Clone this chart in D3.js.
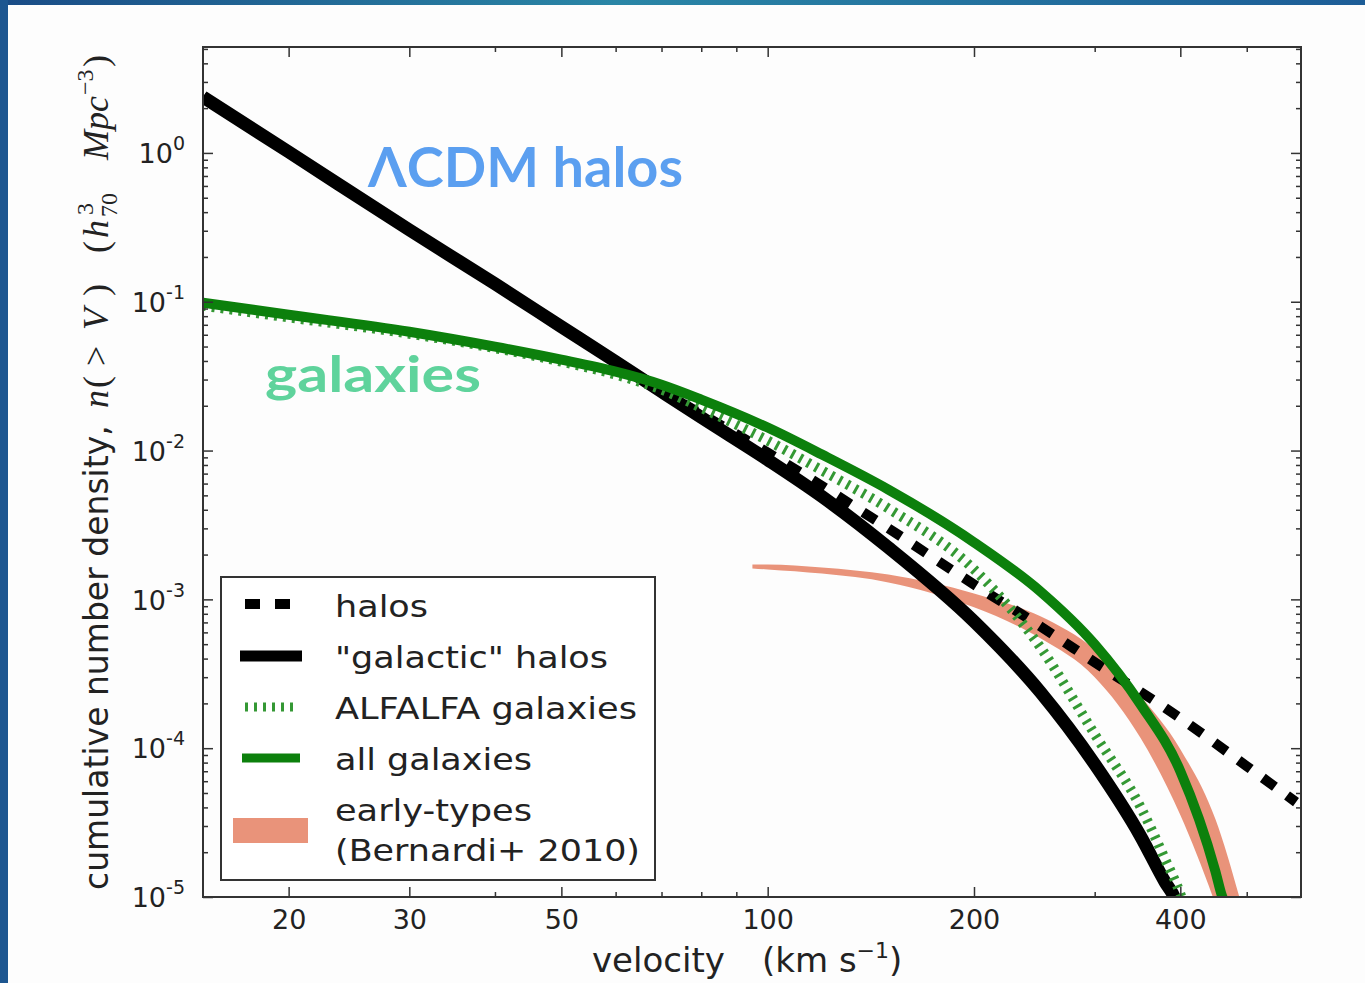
<!DOCTYPE html>
<html>
<head>
<meta charset="utf-8">
<script src="https://cdn.jsdelivr.net/npm/d3@7"></script>
<style>
  body { margin: 0; background: #fff; }
  svg { display: block; }
</style>
</head>
<body>
<div id="chart"></div>
<script>
// values (velocity in km/s, n(>V) in h^3 Mpc^-3)
const haloV = [15, 30, 50, 70, 100, 150, 200, 250, 300, 400, 500, 590];
const haloN = [2.376, 0.304, 0.068, 0.0253, 0.0097, 0.0030, 0.00126, 6.59e-4, 3.78e-4, 1.59e-4, 7.57e-5, 4.34e-5];

const galacticV = [15, 20, 30, 40, 50, 60, 70, 80, 100, 120, 150, 200, 250, 300, 350, 380, 393, 400];
const galacticN = [2.376, 1.016, 0.304, 0.132, 0.068, 0.0396, 0.0249, 0.0167, 0.00867, 0.00491, 0.00223,
  7.11e-4, 2.38e-4, 7.81e-5, 2.56e-5, 1.26e-5, 9.7e-6, 7.5e-6];

const alfalfaV = [15, 20, 30, 40, 50, 60, 70, 80, 100, 120, 150, 200, 250, 300, 350, 380, 400, 410];
const alfalfaN = [0.094, 0.0785, 0.061, 0.0488, 0.0396, 0.0324, 0.0257, 0.0194, 0.01167, 0.00735, 0.00408,
  0.00159, 4.76e-4, 1.24e-4, 4.02e-5, 1.8e-5, 1.05e-5, 7.5e-6];

const allV = [15, 20, 30, 40, 50, 60, 70, 80, 100, 120, 150, 200, 250, 300, 350, 400, 450, 460, 470];
const allN = [0.0985, 0.0818, 0.0629, 0.0499, 0.0408, 0.0339, 0.0277, 0.022, 0.01427, 0.0094, 0.00547,
  0.00242, 0.00113, 4.99e-4, 1.97e-4, 7.01e-5, 1.49e-5, 1.02e-5, 8.3e-6];

const earlyV = [95, 100, 120, 150, 200, 250, 300, 350, 400, 450, 500];
const earlyHi = [1.718e-3, 1.718e-3, 1.64e-3, 1.47e-3, 1.097e-3, 7.69e-4, 4.61e-4, 2.23e-4, 9.85e-5, 3.34e-5, 6.59e-6];
const earlyLo = [1.615e-3, 1.59e-3, 1.49e-3, 1.30e-3, 8.84e-4, 5.47e-4, 3.0e-4, 1.17e-4, 3.55e-5, 8.97e-6, 2.07e-6];

const xMajor = [20, 30, 50, 100, 200, 400];
const xMinor = [40, 60, 70, 80, 90, 300, 500];
const yDecades = [1e-5, 1e-4, 1e-3, 1e-2, 1e-1, 1];

const legendLabels = ["halos", "\"galactic\" halos", "ALFALFA galaxies", "all galaxies", "early-types", "(Bernardi+ 2010)"];

// ---- layout ----
const W = 1365, H = 983;
const plot = { left: 203, right: 1301, top: 47, bottom: 897 };
const ink = "#222";

const svg = d3.select("#chart").append("svg").attr("width", W).attr("height", H);

// slide background with blue border strips
const defs = svg.append("defs");
const grad = defs.append("linearGradient").attr("id", "band").attr("x1", 0).attr("x2", 1);
grad.append("stop").attr("offset", 0).attr("stop-color", "#1a4c86");
grad.append("stop").attr("offset", 0.45).attr("stop-color", "#2a86a6");
grad.append("stop").attr("offset", 1).attr("stop-color", "#1d5d97");
svg.append("rect").attr("width", W).attr("height", H).attr("fill", "url(#band)");
svg.append("rect").attr("x", 0).attr("y", 0).attr("width", 8).attr("height", H).attr("fill", "#1d5690");
svg.append("rect").attr("x", 8).attr("y", 5).attr("width", W - 8).attr("height", H - 5).attr("fill", "#fdfdfd");

defs.append("clipPath").attr("id", "clip")
  .append("rect")
  .attr("x", plot.left).attr("y", plot.top)
  .attr("width", plot.right - plot.left).attr("height", plot.bottom - plot.top);

const x = d3.scaleLog().domain([15, 600]).range([plot.left, plot.right]);
const y = d3.scaleLog().domain([1e-5, 5.15]).range([plot.bottom, plot.top]);

const toPts = (vs, ns) => vs.map((v, i) => [v, ns[i]]);
const line = d3.line().x((d) => x(d[0])).y((d) => y(d[1])).curve(d3.curveMonotoneX);

const g = svg.append("g").attr("clip-path", "url(#clip)");

// early-type band
const band = earlyV.map((v, i) => ({ v, lo: earlyLo[i], hi: earlyHi[i] }));
g.append("path")
  .datum(band)
  .attr("fill", "#e9937a")
  .attr("d", d3.area().x((d) => x(d.v)).y0((d) => y(d.lo)).y1((d) => y(d.hi)).curve(d3.curveMonotoneX));

const styles = {
  galactic: { stroke: "#000", width: 13, dash: null },
  halo: { stroke: "#000", width: 10, dash: "15,15" },
  alfalfa: { stroke: "#349834", width: 10, dash: "3,6" },
  all: { stroke: "#0c800c", width: 10, dash: null },
};

function drawCurve(pts, s) {
  g.append("path")
    .datum(pts)
    .attr("fill", "none")
    .attr("stroke", s.stroke)
    .attr("stroke-width", s.width)
    .attr("stroke-dasharray", s.dash)
    .attr("d", line);
}

drawCurve(toPts(galacticV, galacticN), styles.galactic);
drawCurve(toPts(haloV, haloN), styles.halo);
drawCurve(toPts(alfalfaV, alfalfaN), styles.alfalfa);
drawCurve(toPts(allV, allN), styles.all);

// ---- axes: inward ticks on all four sides ----
function styleAxis(sel) {
  sel.attr("color", "#333").call((s) => s.select(".domain").remove());
  sel.selectAll(".tick line").attr("stroke-width", 1.5);
}

svg.append("g")
  .attr("transform", `translate(0,${plot.bottom})`)
  .call(d3.axisBottom(x).tickValues(xMajor).tickSize(-10).tickPadding(13).tickFormat(d3.format("d")))
  .call(styleAxis)
  .selectAll("text")
  .attr("font-family", "DejaVu Sans").attr("font-size", 27).attr("fill", ink);
svg.append("g").attr("transform", `translate(0,${plot.bottom})`)
  .call(d3.axisBottom(x).tickValues(xMinor).tickSize(-5).tickFormat("")).call(styleAxis);
svg.append("g").attr("transform", `translate(0,${plot.top})`)
  .call(d3.axisTop(x).tickValues(xMajor).tickSize(-10).tickFormat("")).call(styleAxis);
svg.append("g").attr("transform", `translate(0,${plot.top})`)
  .call(d3.axisTop(x).tickValues(xMinor).tickSize(-5).tickFormat("")).call(styleAxis);

const yMinor = [];
yDecades.forEach((d) => {
  for (let m = 2; m <= 9; m++) if (d * m <= 5.15) yMinor.push(d * m);
});

const gy = svg.append("g")
  .attr("transform", `translate(${plot.left},0)`)
  .call(d3.axisLeft(y).tickValues(yDecades).tickSize(-10).tickPadding(18).tickFormat(""))
  .call(styleAxis);
gy.selectAll(".tick text")
  .attr("font-family", "DejaVu Sans").attr("font-size", 27).attr("fill", ink).attr("dy", "0.36em")
  .each(function (d) {
    const t = d3.select(this);
    t.text("10");
    t.append("tspan").attr("dy", -13).attr("font-size", 19).text(Math.round(Math.log10(d)));
  });
svg.append("g").attr("transform", `translate(${plot.left},0)`)
  .call(d3.axisLeft(y).tickValues(yMinor).tickSize(-5).tickFormat("")).call(styleAxis);
svg.append("g").attr("transform", `translate(${plot.right},0)`)
  .call(d3.axisRight(y).tickValues(yDecades).tickSize(-10).tickFormat("")).call(styleAxis);
svg.append("g").attr("transform", `translate(${plot.right},0)`)
  .call(d3.axisRight(y).tickValues(yMinor).tickSize(-5).tickFormat("")).call(styleAxis);

// frame
svg.append("rect")
  .attr("x", plot.left).attr("y", plot.top)
  .attr("width", plot.right - plot.left).attr("height", plot.bottom - plot.top)
  .attr("fill", "none").attr("stroke", "#333").attr("stroke-width", 2);

// x label
const xl = svg.append("text")
  .attr("x", 592).attr("y", 972)
  .attr("font-family", "DejaVu Sans").attr("font-size", 34).attr("fill", ink);
xl.append("tspan").text("velocity");
xl.append("tspan").attr("x", 762).text("(km s");
xl.append("tspan").attr("dy", -14).attr("font-size", 22).text("\u22121");
xl.append("tspan").attr("dy", 14).text(")");

// y label (rotated), math parts in serif italic
const serif = "Liberation Serif";
const yl = svg.append("text")
  .attr("transform", "translate(108,890) rotate(-90)")
  .attr("font-family", "DejaVu Sans").attr("font-size", 33).attr("fill", ink);
yl.append("tspan").text("cumulative number density,");
yl.append("tspan").attr("x", 482).attr("font-family", serif).attr("font-style", "italic").attr("font-size", 36).text("n");
yl.append("tspan").attr("x", 502).attr("font-family", serif).attr("font-size", 36).text("(");
yl.append("tspan").attr("x", 524).attr("font-family", serif).attr("font-size", 36).text(">");
yl.append("tspan").attr("x", 560).attr("font-family", serif).attr("font-style", "italic").attr("font-size", 36).text("V");
yl.append("tspan").attr("x", 594).attr("font-family", serif).attr("font-size", 36).text(")");
yl.append("tspan").attr("x", 637).attr("font-family", serif).attr("font-size", 36).text("(");
yl.append("tspan").attr("x", 652).attr("font-family", serif).attr("font-style", "italic").attr("font-size", 36).text("h");
yl.append("tspan").attr("x", 675).attr("dy", -15).attr("font-family", serif).attr("font-size", 24).text("3");
yl.append("tspan").attr("x", 673).attr("dy", 24).attr("font-family", serif).attr("font-size", 24).text("70");
yl.append("tspan").attr("x", 730).attr("dy", -9).attr("font-family", serif).attr("font-style", "italic").attr("font-size", 36).text("Mpc");
yl.append("tspan").attr("x", 795).attr("dy", -15).attr("font-family", serif).attr("font-size", 24).text("\u22123");
yl.append("tspan").attr("x", 823).attr("dy", 15).attr("font-family", serif).attr("font-size", 36).text(")");

// ---- legend ----
const lg = svg.append("g");
lg.append("rect")
  .attr("x", 221).attr("y", 577).attr("width", 434).attr("height", 303)
  .attr("fill", "#fff").attr("stroke", "#333").attr("stroke-width", 2);

const legendRows = [
  { y: 604, x1: 245, x2: 292, s: styles.halo },
  { y: 656, x1: 240, x2: 302, s: { ...styles.galactic, width: 11 } },
  { y: 707, x1: 245, x2: 295, s: { ...styles.alfalfa, width: 9 } },
  { y: 758, x1: 242, x2: 300, s: { ...styles.all, width: 9 } },
];
legendRows.forEach((r) => {
  lg.append("line")
    .attr("x1", r.x1).attr("x2", r.x2).attr("y1", r.y).attr("y2", r.y)
    .attr("stroke", r.s.stroke).attr("stroke-width", r.s.width)
    .attr("stroke-dasharray", r.s.dash);
});
lg.append("rect").attr("x", 233).attr("y", 818).attr("width", 75).attr("height", 25).attr("fill", "#e9937a");

const legendText = [
  { y: 617, w: 93 }, { y: 668, w: 273 }, { y: 719, w: 302 },
  { y: 770, w: 197 }, { y: 821, w: 197 }, { y: 861, w: 305 },
];
legendText.forEach((t, i) => {
  lg.append("text")
    .attr("x", 335).attr("y", t.y)
    .attr("font-family", "DejaVu Sans").attr("font-size", 31).attr("fill", ink)
    .attr("textLength", t.w).attr("lengthAdjust", "spacingAndGlyphs")
    .text(legendLabels[i]);
});

// ---- slide annotations ----
svg.append("text")
  .attr("x", 368).attr("y", 187)
  .attr("font-family", "Lato").attr("font-weight", 700).attr("font-size", 55)
  .attr("fill", "#5b9ff0")
  .attr("textLength", 315).attr("lengthAdjust", "spacingAndGlyphs")
  .text("\u039BCDM halos");
svg.append("text")
  .attr("x", 265).attr("y", 392)
  .attr("font-family", "Lato").attr("font-weight", 700).attr("font-size", 50)
  .attr("fill", "#5fd39c")
  .attr("textLength", 216).attr("lengthAdjust", "spacingAndGlyphs")
  .text("galaxies");
</script>
</body>
</html>
